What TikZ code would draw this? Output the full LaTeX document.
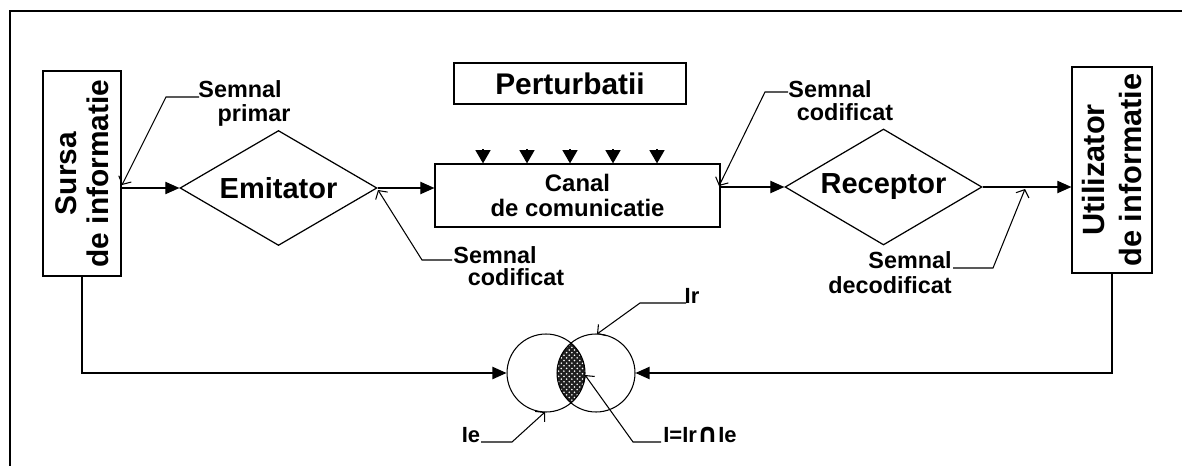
\documentclass[tikz,border=0pt]{standalone}
\usepackage{fontspec}
\setmainfont{Liberation Sans}
\newfontfamily\dejavu{DejaVu Sans}
\usetikzlibrary{shapes.geometric,arrows.meta,patterns,backgrounds}
\begin{document}
\begin{tikzpicture}[x=0.02cm,y=-0.02cm,
  box/.style={draw,line width=0.7pt,inner sep=0pt},
  dia/.style={diamond,aspect=1.713,draw,line width=0.7pt,inner sep=0pt,font=\fontsize{16.5}{18}\bfseries\selectfont},
  flow/.style={line width=0.7pt,-{Triangle[length=8pt,width=7pt]}},
  pflow/.style={line width=0.7pt,-{Triangle[length=7.5pt,width=8.5pt]}},
  lead/.style={line width=0.6pt,-{Straight Barb[length=3.5pt,width=8pt]}},
  lbl/.style={anchor=base,inner sep=0pt,font=\fontsize{13.3}{15}\bfseries\selectfont},
  slbl/.style={anchor=base,inner sep=0pt,font=\fontsize{12.5}{15}\bfseries\selectfont},
  frame/.style={line width=1.2pt}]
\useasboundingbox (0,0) rectangle (1182,466);
% outer frame
\draw[frame] (1182,11) -- (10,11) -- (10,466);

% blocks
\node[box,minimum width=1.56cm,minimum height=4.1cm] (sursa) at (82,173.5) {};
\node[rotate=90,align=center,inner sep=0pt,font=\fontsize{17}{18}\bfseries\selectfont] (sursat) at (sursa.center) {Sursa\\de informatie};
\node[box,minimum width=1.6cm,minimum height=4.12cm] (util) at (1112,170) {};
\node[rotate=90,align=center,inner sep=0pt,font=\fontsize{17.5}{21}\bfseries\selectfont] (utilt) at (util.center) {Utilizator\\de informatie};
\node[dia,minimum width=3.94cm,minimum height=2.3cm] (emit) at (278.5,188) {Emitator};
\node[dia,minimum width=3.94cm,minimum height=2.32cm] (rec) at (883.5,187) {Receptor};
\node[box,minimum width=5.7cm,minimum height=1.26cm,align=center,font=\fontsize{13.6}{14.5}\bfseries\selectfont] (can) at (577.5,195.5) {Canal\\de comunicatie};
\node[box,minimum width=4.64cm,minimum height=0.82cm,font=\fontsize{17}{18}\bfseries\selectfont] (pert) at (570,83.5) {Perturbatii};
\node[circle,draw,line width=0.6pt,minimum size=1.56cm,inner sep=0pt] (le) at (546,373) {};
\node[circle,draw,line width=0.6pt,minimum size=1.56cm,inner sep=0pt] (ir) at (596,373) {};

% lens
\begin{pgfonlayer}{background}
\begin{scope}
\clip (le.center) circle[radius=0.78cm];
\fill[black!88] (ir.center) circle[radius=0.78cm];
\fill[pattern=crosshatch dots,pattern color=white!55] (ir.center) circle[radius=0.78cm];
\end{scope}
\end{pgfonlayer}

% main flow
\draw[flow] (sursa.east |- emit.west) -- (emit.west);
\draw[flow] (emit.east) -- (emit.east -| can.west);
\draw[flow] (rec.west -| can.east) -- (rec.west);
\draw[flow] (rec.east) -- (rec.east -| util.west);
\draw[flow] (sursa.south) -- (sursa.south |- le.west) -- (le.west);
\draw[flow] (util.south) -- (util.south |- ir.east) -- (ir.east);

% perturbations
\foreach \i/\px in {1/483,2/527,3/570,4/613,5/657}{
  \coordinate (p\i) at (\px,149);
  \draw[pflow] (p\i) -- (p\i |- can.north);
}

% labels
\node[lbl] (sp1) at (240,97) {Semnal};
\node[lbl] (sp2) at (254,121) {primar};
\node[lbl] (sc1) at (495,263) {Semnal};
\node[lbl] (sc2) at (516,285) {codificat};
\node[lbl] (su1) at (830,97) {Semnal};
\node[lbl] (su2) at (845,120) {codificat};
\node[lbl] (sd1) at (910,268) {Semnal};
\node[lbl] (sd2) at (890,293) {decodificat};
\node[slbl] (irl) at (692,303) {Ir};
\node[slbl] (iel) at (471,442) {Ie};
\node[slbl] (il) at (700,442) {I=Ir{\dejavu\bfseries\fontsize{15}{15}\selectfont ∩}Ie};

% leaders
\coordinate (spa) at (199,97); \coordinate (spb) at (166,97); \coordinate (spt) at (122,185);
\draw[lead] (spa) -- (spb) -- (spt);
\coordinate (sca) at (452,260); \coordinate (scb) at (422,260); \coordinate (sct) at (378,190);
\draw[lead] (sca) -- (scb) -- (sct);
\coordinate (sua) at (788,92); \coordinate (sub) at (765,92); \coordinate (sut) at (719,186);
\draw[lead] (sua) -- (sub) -- (sut);
\coordinate (sda) at (953,268); \coordinate (sdb) at (993,268); \coordinate (sdt) at (1025,189);
\draw[lead] (sda) -- (sdb) -- (sdt);
\coordinate (ira) at (686,303); \coordinate (irb) at (640,303); \coordinate (irt) at (597,334);
\draw[lead] (ira) -- (irb) -- (irt);
\coordinate (iea) at (481,442); \coordinate (ieb) at (512,442); \coordinate (iet) at (545,412);
\draw[lead] (iea) -- (ieb) -- (iet);
\coordinate (ila) at (661,442); \coordinate (ilb) at (633,442); \coordinate (ilt) at (585,375);
\draw[lead] (ila) -- (ilb) -- (ilt);
\end{tikzpicture}
\end{document}
